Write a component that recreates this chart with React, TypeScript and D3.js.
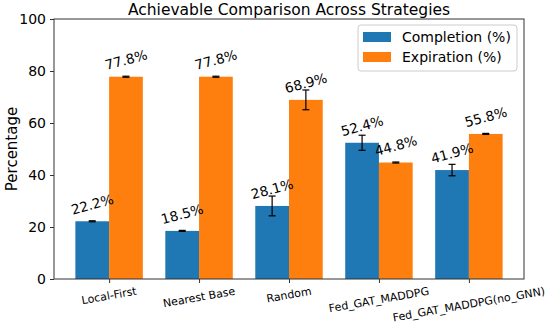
import React, { useEffect, useRef } from 'react';
import * as d3 from 'd3';

const strategies = ['Local-First', 'Nearest Base', 'Random', 'Fed_GAT_MADDPG', 'Fed_GAT_MADDPG(no_GNN)'];
const completion = [22.2, 18.5, 28.1, 52.4, 41.9];
const completionErr = [0.2, 0.2, 3.8, 2.9, 2.2];
const expiration = [77.8, 77.8, 68.9, 44.8, 55.8];
const expirationErr = [0.2, 0.2, 3.8, 0.2, 0.2];
const yTicks = [0, 20, 40, 60, 80, 100];
const seriesNames = ['Completion (%)', 'Expiration (%)'];
const colors = ['#1f77b4', '#ff7f0e'];

const W = 550;
const H = 326;
const FONT = 'DejaVu Sans, sans-serif';

export default function App() {
  const ref = useRef<SVGSVGElement>(null);

  useEffect(() => {
    const svg = d3.select(ref.current);
    svg.selectAll('*').remove();

    const margin = { top: 19, right: 26, bottom: 47, left: 54 };
    const left = margin.left;
    const right = W - margin.right;
    const top = margin.top;
    const bottom = H - margin.bottom;
    const barW = 0.375;

    const x = d3.scaleLinear().domain([-0.6125, 4.6125]).range([left, right]);
    const y = d3.scaleLinear().domain([0, 100]).range([bottom, top]);
    const unit = x(1) - x(0);

    svg.append('rect').attr('width', W).attr('height', H).attr('fill', 'white');

    const series = [
      { vals: completion, errs: completionErr, off: -barW / 2, color: colors[0] },
      { vals: expiration, errs: expirationErr, off: barW / 2, color: colors[1] },
    ];

    // bars
    series.forEach((s) => {
      svg
        .append('g')
        .selectAll('rect')
        .data(s.vals)
        .join('rect')
        .attr('x', (d, i) => x(i + s.off - barW / 2))
        .attr('width', barW * unit)
        .attr('y', (d) => y(d))
        .attr('height', (d) => y(0) - y(d))
        .attr('fill', s.color);
    });

    // error bars
    series.forEach((s) => {
      const g = svg.append('g').attr('stroke', '#000').attr('stroke-width', 1.2);
      s.vals.forEach((v, i) => {
        const cx = x(i + s.off);
        const y1 = y(v + s.errs[i]);
        const y2 = y(v - s.errs[i]);
        g.append('line').attr('x1', cx).attr('x2', cx).attr('y1', y1).attr('y2', y2);
        g.append('line').attr('x1', cx - 3.5).attr('x2', cx + 3.5).attr('y1', y1).attr('y2', y1);
        g.append('line').attr('x1', cx - 3.5).attr('x2', cx + 3.5).attr('y1', y2).attr('y2', y2);
      });
    });

    // value labels, rotated 15deg, bbox bottom at value + 2
    const rot = (15 * Math.PI) / 180;
    const vfs = 13.6;
    series.forEach((s) => {
      s.vals.forEach((v, i) => {
        const t = svg
          .append('text')
          .attr('font-family', FONT)
          .attr('font-size', vfs)
          .attr('text-anchor', 'middle')
          .attr('dominant-baseline', 'central')
          .text(`${v.toFixed(1)}%`);
        const w = (t.node() as SVGTextElement).getComputedTextLength();
        const h = vfs * 0.95;
        const halfH = (w * Math.sin(rot) + h * Math.cos(rot)) / 2;
        const cx = x(i + s.off);
        const cy = y(v + 2) - halfH;
        t.attr('transform', `translate(${cx},${cy}) rotate(-15)`);
      });
    });

    // axes
    const yAxis = svg
      .append('g')
      .attr('transform', `translate(${left},0)`)
      .call(d3.axisLeft(y).tickValues(yTicks).tickSize(4).tickPadding(4));
    yAxis.select('.domain').remove();
    yAxis.selectAll('line').attr('stroke', '#333');
    yAxis.selectAll('text').attr('font-family', FONT).attr('font-size', 14).attr('fill', '#000');

    const xAxis = svg
      .append('g')
      .attr('transform', `translate(0,${bottom})`)
      .call(d3.axisBottom(x).tickValues(d3.range(strategies.length)).tickSize(4).tickFormat(() => ''));
    xAxis.select('.domain').remove();
    xAxis.selectAll('line').attr('stroke', '#333');

    // x tick labels rotated 10deg, bbox top just under the ticks
    const xr = (10 * Math.PI) / 180;
    strategies.forEach((name, i) => {
      const t = svg
        .append('text')
        .attr('font-family', FONT)
        .attr('font-size', 11)
        .attr('text-anchor', 'middle')
        .attr('dominant-baseline', 'central')
        .text(name);
      const w = (t.node() as SVGTextElement).getComputedTextLength();
      const h = 11 * 0.95;
      const halfH = (w * Math.sin(xr) + h * Math.cos(xr)) / 2;
      t.attr('transform', `translate(${x(i)},${bottom + 7 + halfH}) rotate(-10)`);
    });

    // spines
    svg
      .append('rect')
      .attr('x', left)
      .attr('y', top)
      .attr('width', right - left)
      .attr('height', bottom - top)
      .attr('fill', 'none')
      .attr('stroke', '#333')
      .attr('stroke-width', 1);

    // title
    svg
      .append('text')
      .attr('x', (left + right) / 2)
      .attr('y', 15)
      .attr('text-anchor', 'middle')
      .attr('font-family', FONT)
      .attr('font-size', 15.5)
      .text('Achievable Comparison Across Strategies');

    // y label
    svg
      .append('text')
      .attr('transform', `translate(17,${(top + bottom) / 2}) rotate(-90)`)
      .attr('text-anchor', 'middle')
      .attr('font-family', FONT)
      .attr('font-size', 15)
      .text('Percentage');

    // legend
    const lg = svg.append('g');
    lg.append('rect')
      .attr('x', 358)
      .attr('y', 25)
      .attr('width', 159)
      .attr('height', 46)
      .attr('rx', 3)
      .attr('fill', 'white')
      .attr('fill-opacity', 0.8)
      .attr('stroke', '#ccc');
    seriesNames.forEach((n, i) => {
      lg.append('rect')
        .attr('x', 363)
        .attr('y', 32 + i * 20)
        .attr('width', 28)
        .attr('height', 10)
        .attr('fill', colors[i]);
      lg.append('text')
        .attr('x', 402)
        .attr('y', 37 + i * 20)
        .attr('dominant-baseline', 'central')
        .attr('font-family', FONT)
        .attr('font-size', 14)
        .text(n);
    });
  }, []);

  return (
    <svg
      ref={ref}
      width={W}
      height={H}
      style={{ position: 'absolute', left: 0, top: 0, display: 'block' }}
    />
  );
}
